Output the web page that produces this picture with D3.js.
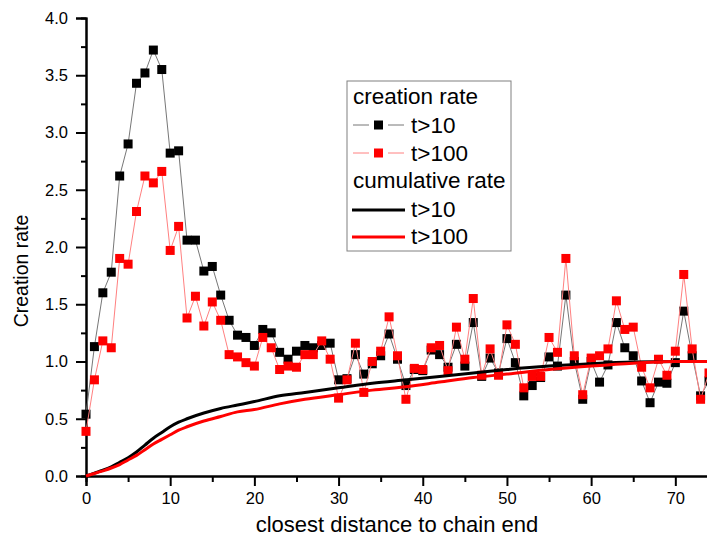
<!DOCTYPE html>
<html>
<head>
<meta charset="utf-8">
<script src="https://cdn.jsdelivr.net/npm/d3@7"></script>
<style>
  html, body { margin: 0; padding: 0; background: #fff; }
  svg { display: block; font-family: 'Liberation Sans', Arial, sans-serif; }
</style>
</head>
<body>
<svg id="chart" width="707" height="546"></svg>
<script>
// distance values 0..74
const distances = d3.range(0, 75);

// creation rate, t>10 (black squares)
const rateT10 = [
  0.54, 1.13, 1.60, 1.78, 2.62, 2.90, 3.43, 3.52, 3.72, 3.55,
  2.82, 2.84, 2.06, 2.06, 1.79, 1.83, 1.58, 1.36, 1.23, 1.21,
  1.14, 1.28, 1.25, 1.08, 1.02, 1.09, 1.14, 1.12, 1.14, 1.16,
  0.84, 0.85, 1.06, 0.89, 0.98, 1.05, 1.24, 1.02, 0.79, 0.93,
  0.92, 1.10, 1.06, 0.95, 1.15, 0.96, 1.34, 0.87, 1.03, 0.90,
  1.20, 0.99, 0.70, 0.79, 0.86, 1.04, 0.96, 1.58, 1.00, 0.67,
  1.00, 0.82, 0.97, 1.34, 1.12, 1.05, 0.83, 0.64, 0.82, 0.81,
  0.99, 1.44, 1.05, 0.70, 0.83
];

// creation rate, t>100 (red squares)
const rateT100 = [
  0.39, 0.84, 1.18, 1.12, 1.90, 1.85, 2.31, 2.62, 2.56, 2.66,
  1.97, 2.18, 1.38, 1.57, 1.31, 1.52, 1.36, 1.06, 1.04, 0.99,
  0.96, 1.21, 1.12, 0.93, 0.96, 0.95, 1.06, 1.06, 1.18, 1.02,
  0.68, 0.84, 1.16, 0.73, 1.00, 1.09, 1.39, 1.05, 0.67, 0.94,
  0.93, 1.12, 1.14, 0.92, 1.30, 1.02, 1.55, 0.88, 1.11, 0.88,
  1.32, 1.15, 0.77, 0.87, 0.87, 1.21, 1.08, 1.90, 1.05, 0.71,
  1.03, 1.05, 1.11, 1.53, 1.28, 1.30, 0.95, 0.77, 1.02, 0.88,
  1.09, 1.76, 1.11, 0.67, 0.90
];

// cumulative rate, read at these distances
const cumX = [0, 1, 2, 3, 4, 5, 6, 7, 8, 9, 10, 11, 12, 14, 16, 18, 20, 23, 26, 30, 34, 38, 42, 46, 50, 55, 60, 65, 70, 74];
const cumT10 = [0, 0.025, 0.05, 0.08, 0.12, 0.16, 0.21, 0.27, 0.33, 0.38, 0.43, 0.47, 0.50, 0.55, 0.59, 0.62, 0.65, 0.70, 0.73, 0.77, 0.81, 0.84, 0.87, 0.90, 0.93, 0.96, 0.98, 0.995, 1.0, 1.0];
const cumT100 = [0, 0.022, 0.045, 0.07, 0.10, 0.14, 0.18, 0.23, 0.28, 0.32, 0.36, 0.40, 0.43, 0.48, 0.52, 0.56, 0.58, 0.63, 0.67, 0.71, 0.75, 0.78, 0.82, 0.86, 0.89, 0.93, 0.96, 0.985, 1.0, 1.0];

const xTicks = [0, 10, 20, 30, 40, 50, 60, 70];
const yTicks = [0, 0.5, 1.0, 1.5, 2.0, 2.5, 3.0, 3.5, 4.0];

const svg = d3.select('#chart');

const x = d3.scaleLinear().domain([0, 74]).range([86, 709]);
const y = d3.scaleLinear().domain([0, 4]).range([476, 18]);

// axes (minor ticks first, then major ticks with labels)
const xAxis = svg.append('g').attr('transform', `translate(0,${y(0)})`);
xAxis.call(d3.axisBottom(x).tickValues(d3.range(5, 75, 10)).tickSize(6).tickFormat(''));
xAxis.call(g => g.append('g').call(d3.axisBottom(x).tickValues(xTicks).tickSize(10).tickPadding(6)));

const yAxis = svg.append('g').attr('transform', `translate(${x(0)},0)`);
yAxis.call(d3.axisLeft(y).tickValues(d3.range(0.25, 4, 0.5)).tickSize(5).tickFormat(''));
yAxis.call(g => g.append('g').call(d3.axisLeft(y).tickValues(yTicks).tickSize(10).tickPadding(8).tickFormat(d3.format('.1f'))));

svg.selectAll('.domain').attr('stroke', '#000').attr('stroke-width', 2);
svg.selectAll('.tick line').attr('stroke', '#000').attr('stroke-width', 2);
svg.selectAll('.tick text').style('font-size', '16.5px').attr('fill', '#000');

// titles
svg.append('text')
  .attr('x', 397).attr('y', 532)
  .attr('text-anchor', 'middle')
  .style('font-size', '22px')
  .text('closest distance to chain end');

svg.append('text')
  .attr('transform', 'translate(28,271) rotate(-90)')
  .attr('text-anchor', 'middle')
  .style('font-size', '19.5px')
  .text('Creation rate');

// scatter series
const series = [
  { values: rateT10, fill: '#000', line: '#777' },
  { values: rateT100, fill: '#ff0000', line: '#ff8080' },
];

const lineGen = d3.line().x(d => x(d[0])).y(d => y(d[1]));

series.forEach(s => {
  const pts = distances.map((d, i) => [d, s.values[i]]);
  svg.append('path')
    .datum(pts)
    .attr('d', lineGen)
    .attr('fill', 'none')
    .attr('stroke', s.line)
    .attr('stroke-width', 1);
  svg.append('g')
    .selectAll('rect')
    .data(pts)
    .enter()
    .append('rect')
    .attr('x', d => x(d[0]) - 4.5)
    .attr('y', d => y(d[1]) - 4.5)
    .attr('width', 9)
    .attr('height', 9)
    .attr('fill', s.fill);
});

// cumulative curves
const cumLine = d3.line().x(d => x(d[0])).y(d => y(d[1])).curve(d3.curveMonotoneX);
[[cumT10, '#000'], [cumT100, '#ff0000']].forEach(([vals, c]) => {
  svg.append('path')
    .datum(cumX.map((d, i) => [d, vals[i]]))
    .attr('d', cumLine)
    .attr('fill', 'none')
    .attr('stroke', c)
    .attr('stroke-width', 3);
});

// legend
const legend = svg.append('g');
legend.append('rect')
  .attr('x', 347).attr('y', 81)
  .attr('width', 164).attr('height', 170)
  .attr('fill', '#fff')
  .attr('stroke', '#808080')
  .attr('stroke-width', 1);

const legendRows = [
  { label: 'creation rate', y: 104, x: 353 },
  { label: 't>10', y: 133, x: 411, kind: 'marker', fill: '#000', line: '#777', cy: 125 },
  { label: 't>100', y: 161, x: 411, kind: 'marker', fill: '#ff0000', line: '#ff8080', cy: 153 },
  { label: 'cumulative rate', y: 188, x: 353 },
  { label: 't>10', y: 217, x: 411, kind: 'line', line: '#000', cy: 210 },
  { label: 't>100', y: 244, x: 411, kind: 'line', line: '#ff0000', cy: 237 },
];

legendRows.forEach(r => {
  legend.append('text')
    .attr('x', r.x).attr('y', r.y)
    .style('font-size', '22.5px')
    .text(r.label);
  if (r.kind === 'marker') {
    legend.append('line').attr('x1', 353).attr('x2', 369).attr('y1', r.cy).attr('y2', r.cy)
      .attr('stroke', r.line).attr('stroke-width', 1);
    legend.append('line').attr('x1', 388).attr('x2', 404).attr('y1', r.cy).attr('y2', r.cy)
      .attr('stroke', r.line).attr('stroke-width', 1);
    legend.append('rect').attr('x', 374).attr('y', r.cy - 4.5).attr('width', 9).attr('height', 9)
      .attr('fill', r.fill);
  } else if (r.kind === 'line') {
    legend.append('line').attr('x1', 352).attr('x2', 405).attr('y1', r.cy).attr('y2', r.cy)
      .attr('stroke', r.line).attr('stroke-width', 3);
  }
});
</script>
</body>
</html>
